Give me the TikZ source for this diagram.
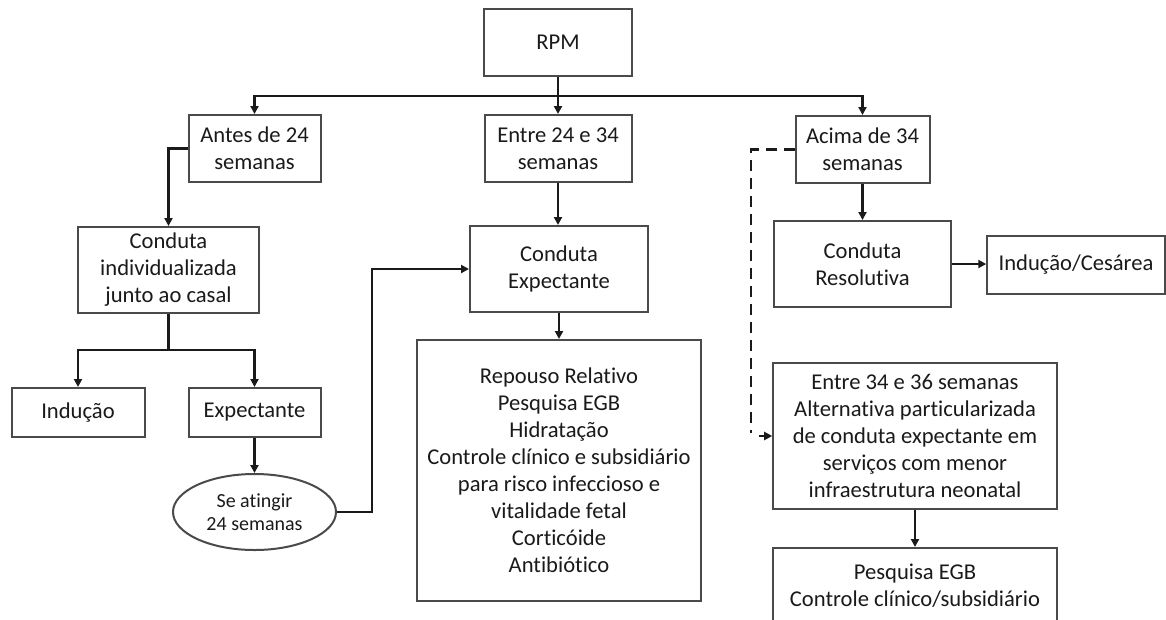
\documentclass[tikz,border=0pt]{standalone}
\usepackage{fontspec}
\setmainfont{Carlito}[Ligatures={NoCommon,NoRare,NoDiscretionary}]
\usetikzlibrary{arrows.meta,shapes.geometric}
\definecolor{ink}{HTML}{1A1A1A}
\definecolor{frame}{HTML}{4A4A4A}
\begin{document}
\begin{tikzpicture}[x=1pt,y=-1pt,
  box/.style={draw=frame,line width=2pt,fill=white,align=center,inner sep=0pt,
    text=ink,font=\fontsize{22.6}{27}\selectfont},
  oval/.style={ellipse,draw=frame,line width=2pt,fill=white,align=center,inner sep=0pt,
    text=ink,font=\fontsize{20}{23}\selectfont},
  arr/.style={line width=2.8pt,ink,-{Triangle[length=8pt,width=8pt]}},
  link/.style={line width=2.8pt,ink},
  dash link/.style={line width=2.8pt,ink,dash pattern=on 11pt off 7pt}]
\useasboundingbox[fill=white] (0,0) rectangle (1166,619);

% top level
\node[box,minimum width=148pt,minimum height=67pt] (rpm) at (558,42.5) {RPM};
\node[box,minimum width=132pt,minimum height=67pt] (antes) at (254.5,148.5) {Antes de 24\\semanas};
\node[box,minimum width=147pt,minimum height=67pt] (entre) at (558,148.5) {Entre 24 e 34\\semanas};
\node[box,minimum width=134pt,minimum height=67pt] (acima) at (862.5,149.5) {Acima de 34\\semanas};

% second level
\node[box,minimum width=181pt,minimum height=86pt] (indiv) at (168.5,270) {Conduta\\individualizada\\junto ao casal};
\node[box,minimum width=178pt,minimum height=86pt] (expc) at (559,269) {Conduta\\Expectante};
\node[box,minimum width=177pt,minimum height=86pt] (resol) at (862.5,264) {Conduta\\Resolutiva};
\node[box,minimum width=177.5pt,minimum height=58pt] (ces) at (1076,265) {Indução/Cesárea};

% lower left branch
\node[box,minimum width=133pt,minimum height=49pt] (ind) at (78,412.5) {Indução};
\node[box,minimum width=132pt,minimum height=49pt] (expt) at (254.5,412.5) {Expectante};
\node[oval,minimum width=163pt,minimum height=76pt] (seat) at (254.5,512) {Se atingir\\24 semanas};

% measures for expectant management
\node[box,minimum width=284pt,minimum height=261pt] (med) at (559,470.5)
  {Repouso Relativo\\Pesquisa EGB\\Hidratação\\Controle clínico e subsidiário\\para risco infeccioso e\\vitalidade fetal\\Corticóide\\Antibiótico};

% 34--36 weeks alternative
\node[box,minimum width=283.6pt,minimum height=146pt] (alt) at (915,436)
  {Entre 34 e 36 semanas\\Alternativa particularizada\\de conduta expectante em\\serviços com menor\\infraestrutura neonatal};
\node[box,minimum width=283.6pt,minimum height=76pt] (egb) at (915,586)
  {Pesquisa EGB\\Controle clínico/subsidiário};

% junction points
\coordinate (bus) at (558,96);
\coordinate (split) at (168.5,350);
\coordinate (rise) at (372,512);
\coordinate (dk) at (751,433);
\coordinate (da) at (759,436);

% connectors
\draw[arr] (rpm.south) -- (entre.north);
\draw[arr] (bus) -| (antes.north);
\draw[arr] (bus) -| (acima.north);
\draw[arr] (antes.west) -| (indiv.north);
\draw[arr] (entre.south) -- (entre.south |- expc.north);
\draw[arr] (acima.south) -- (acima.south |- resol.north);
\draw[arr] (resol.east) -- (resol.east -| ces.west);
\draw[link] (indiv.south) -- (split);
\draw[arr] (split) -| (ind.north);
\draw[arr] (split) -| (expt.north);
\draw[arr] (expt.south) -- (seat.north);
\draw[arr] (seat.east) -- (rise) |- (expc.west);
\draw[arr] (expc.south) -- (expc.south |- med.north);
\draw[dash link] (acima.west) -| (dk);
\draw[arr,line width=2pt] (da) -- (alt.west);
\draw[arr] (alt.south) -- (egb.north);
\end{tikzpicture}
\end{document}
